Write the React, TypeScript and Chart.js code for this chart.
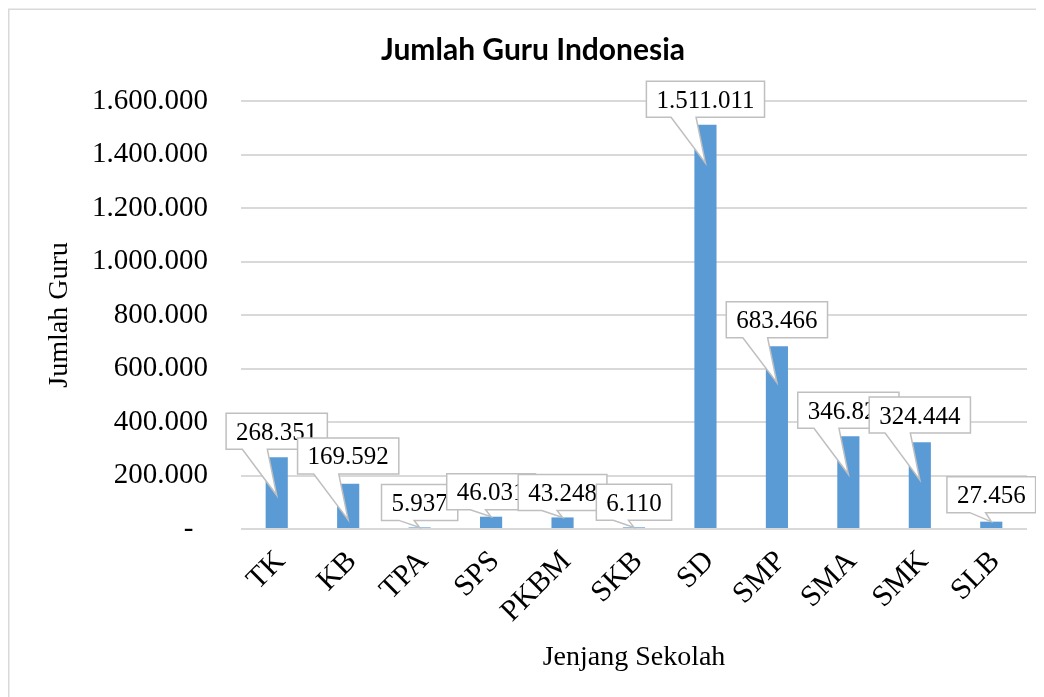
import React, { useEffect, useRef } from "react";
import { Chart, registerables } from "chart.js";

Chart.register(...registerables);

// ---- data ----
const categories = ["TK", "KB", "TPA", "SPS", "PKBM", "SKB", "SD", "SMP", "SMA", "SMK", "SLB"];
const teacherCounts = [268351, 169592, 5937, 46031, 43248, 6110, 1511011, 683466, 346826, 324444, 27456];
const yTickValues = [0, 200000, 400000, 600000, 800000, 1000000, 1200000, 1400000, 1600000];

// ---- callout styling (where the pointer touches the bar, and how far the box sits above it) ----
const calloutTipShare = [0.47, 0.2, 1, 1, 1, 1, 0.905, 0.8, 0.59, 0.565, 1];
const calloutLift = [64, 64, 25, 25, 25, 25, 64, 63, 64, 65, 27];

const TITLE = "Jumlah Guru Indonesia";
const Y_TITLE = "Jumlah Guru";
const X_TITLE = "Jenjang Sekolah";

const SERIF = "'Liberation Serif', 'Times New Roman', serif";

const fmt = (v: number) =>
  v === 0 ? "-  " : String(Math.round(v)).replace(/\B(?=(\d{3})+(?!\d))/g, ".");

const framePlugin = {
  id: "frame",
  beforeDraw(chart: any) {
    const { ctx, width, height } = chart;
    ctx.save();
    ctx.fillStyle = "#ffffff";
    ctx.fillRect(0, 0, width, height);
    ctx.strokeStyle = "#d9d9d9";
    ctx.lineWidth = 1.5;
    ctx.beginPath();
    ctx.moveTo(0.75, height);
    ctx.lineTo(0.75, 1.25);
    ctx.lineTo(width, 1.25);
    ctx.stroke();
    ctx.restore();
  },
  afterDraw(chart: any) {
    const { ctx } = chart;
    ctx.save();
    ctx.fillStyle = "#000000";
    ctx.font = "bold 30px Lato, 'Open Sans', sans-serif";
    ctx.textAlign = "center";
    ctx.textBaseline = "middle";
    ctx.fillText(TITLE, 525, 42);
    ctx.restore();
  },
};

const calloutPlugin = {
  id: "callouts",
  afterDatasetsDraw(chart: any) {
    const { ctx } = chart;
    const meta = chart.getDatasetMeta(0);
    const yScale = chart.scales.y;
    ctx.save();
    ctx.font = `25px ${SERIF}`;
    meta.data.forEach((bar: any, i: number) => {
      const value = teacherCounts[i];
      const tipX = bar.x;
      const tipY = yScale.getPixelForValue(value * calloutTipShare[i]);
      const lift = calloutLift[i];
      const text = fmt(value);
      const tw = ctx.measureText(text).width;
      const w = tw + 20;
      const h = 36;
      const cx = tipX;
      const cy = tipY - lift;
      const left = cx - w / 2;
      const right = cx + w / 2;
      const top = cy - h / 2;
      const bottom = cy + h / 2;
      const baseL = cx - (lift * 0.35 + 12);
      const baseR = cx - (lift * 0.1 + 3);
      ctx.beginPath();
      ctx.moveTo(left, top);
      ctx.lineTo(right, top);
      ctx.lineTo(right, bottom);
      ctx.lineTo(baseR, bottom);
      ctx.lineTo(tipX, tipY);
      ctx.lineTo(baseL, bottom);
      ctx.lineTo(left, bottom);
      ctx.closePath();
      ctx.fillStyle = "#ffffff";
      ctx.fill();
      ctx.strokeStyle = "#bfbfbf";
      ctx.lineWidth = 1.5;
      ctx.stroke();
      ctx.fillStyle = "#000000";
      ctx.textAlign = "center";
      ctx.textBaseline = "middle";
      ctx.fillText(text, cx, cy + 2);
    });
    ctx.restore();
  },
};

export default function App() {
  const canvasRef = useRef<HTMLCanvasElement | null>(null);

  useEffect(() => {
    if (!canvasRef.current) return;
    const chart = new Chart(canvasRef.current, {
      type: "bar",
      data: {
        labels: categories,
        datasets: [
          {
            label: Y_TITLE,
            data: teacherCounts,
            backgroundColor: "#5b9bd5",
            borderWidth: 0,
            barPercentage: 0.31,
            categoryPercentage: 1,
          },
        ],
      },
      options: {
        responsive: false,
        animation: false,
        layout: { padding: { top: 93, right: 17, bottom: 0, left: 0 } },
        plugins: {
          legend: { display: false },
          title: { display: false },
          tooltip: { enabled: false },
        },
        scales: {
          x: {
            grid: { display: false, drawTicks: false },
            border: { display: false },
            ticks: {
              color: "#000000",
              font: { family: SERIF, size: 30 },
              maxRotation: 45,
              minRotation: 45,
              padding: 15,
              labelOffset: 4,
              autoSkip: false,
            },
            title: {
              display: true,
              text: X_TITLE,
              color: "#000000",
              font: { family: SERIF, size: 28 },
              padding: { top: 0, bottom: 23 },
            },
            afterFit: (s: any) => {
              s.height = 168;
            },
          },
          y: {
            min: 0,
            max: 1600000,
            afterBuildTicks: (s: any) => {
              s.ticks = yTickValues.map((v) => ({ value: v }));
            },
            grid: { color: "#d9d9d9", lineWidth: 2, drawTicks: false },
            border: { display: false },
            ticks: {
              color: "#000000",
              font: { family: SERIF, size: 29 },
              padding: 33,
              callback: (v: any) => fmt(Number(v)),
            },
            title: {
              display: true,
              text: Y_TITLE,
              color: "#000000",
              font: { family: SERIF, size: 28 },
              padding: { top: 35, bottom: 0 },
            },
            afterFit: (s: any) => {
              s.width = 233;
            },
          },
        },
      },
      plugins: [framePlugin, calloutPlugin],
    });
    return () => chart.destroy();
  }, []);

  return (
    <div style={{ width: 1036, height: 689 }}>
      <canvas ref={canvasRef} width={1036} height={689} style={{ display: "block" }} />
    </div>
  );
}
